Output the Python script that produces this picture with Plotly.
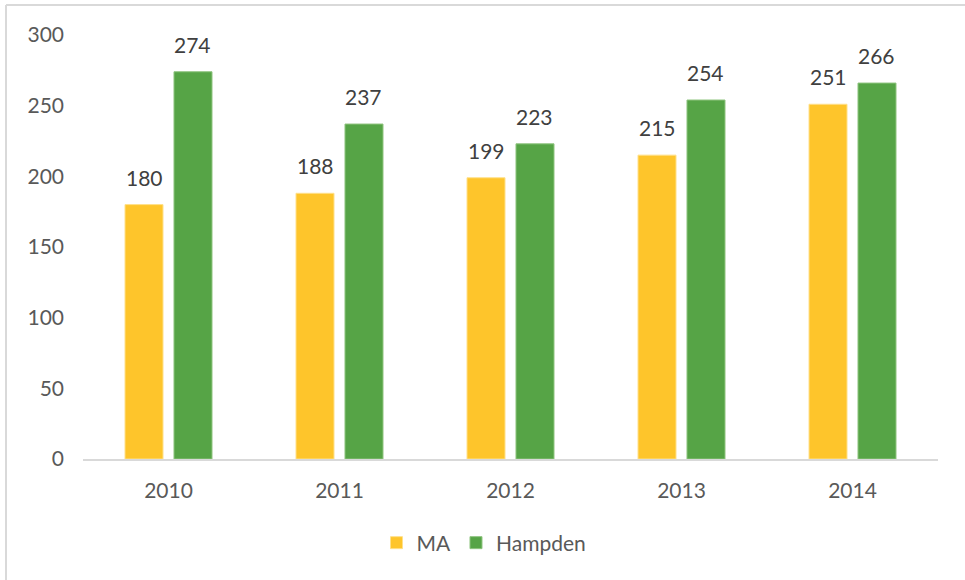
import plotly.graph_objects as go

# MA vs Hampden, 2010-2014
years = ['2010', '2011', '2012', '2013', '2014']
ma = [180, 188, 199, 215, 251]
hampden = [274, 237, 223, 254, 266]

W, H = 965, 580
L, R, T, B = 83, 27, 35, 121
pw, ph = W - L - R, H - T - B


def px(x):
    return (x - L) / pw


def py(y):
    return (H - B - y) / ph


layout = go.Layout(
    width=W,
    height=H,
    margin=dict(l=L, r=R, t=T, b=B),
    paper_bgcolor='white',
    plot_bgcolor='white',
    font=dict(family='Lato, Open Sans, sans-serif', size=21, color='#595959'),
    barmode='group',
    bargap=0.427,
    bargroupgap=0.224,
    xaxis=dict(
        type='category',
        showgrid=False,
        showline=True,
        linecolor='#D9D9D9',
        linewidth=2,
        ticks='',
        ticklabelstandoff=12,
    ),
    yaxis=dict(
        range=[0, 300],
        dtick=50,
        showgrid=False,
        zeroline=False,
        showline=False,
        ticks='',
        ticklabelstandoff=18,
    ),
    showlegend=True,
    legend=dict(
        orientation='h',
        x=px(484),
        xanchor='center',
        y=py(543),
        yanchor='middle',
        font=dict(size=21, color='#595959'),
        itemwidth=30,
    ),
    shapes=[
        dict(type='line', xref='paper', yref='paper',
             x0=px(6), x1=px(965), y0=py(5), y1=py(5),
             line=dict(color='#D9D9D9', width=2)),
        dict(type='line', xref='paper', yref='paper',
             x0=px(6), x1=px(6), y0=py(5), y1=py(580),
             line=dict(color='#D9D9D9', width=2)),
    ],
)

fig = go.Figure(layout=layout)

fig.add_trace(go.Bar(
    x=years, y=ma, name='MA',
    marker=dict(color='#FEC52B', line=dict(color='#FFE08A', width=1)),
))
fig.add_trace(go.Bar(
    x=years, y=hampden, name='Hampden',
    marker=dict(color='#56A446', line=dict(color='#8FC47F', width=1)),
))

# data labels sit well above the bar tops, so use annotations
# (category axis: annotation x is the category index)
slot = pw / len(years) * (1 - 0.427) / 2
for vals, shift in ((ma, -slot / 2), (hampden, slot / 2)):
    for i, v in enumerate(vals):
        fig.add_annotation(
            x=i, y=v, text=str(v), showarrow=False,
            xshift=shift, yshift=13, yanchor='bottom',
            font=dict(color='#404040', size=21),
        )

fig.write_html('out.html', config={'displayModeBar': False},
               post_script="document.body.style.margin='0';")
